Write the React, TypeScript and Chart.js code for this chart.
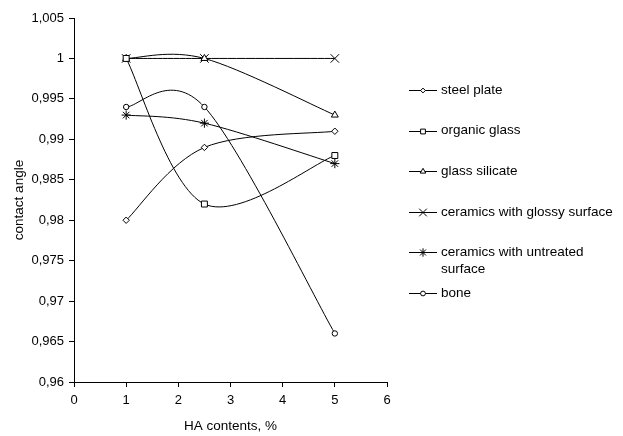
import React, { useEffect, useRef } from 'react';
import { Chart, registerables } from 'chart.js';
import { drawPoint } from 'chart.js/helpers';

Chart.register(...registerables);

// ---- data ----
const xValues = [1, 2.5, 5];
const seriesLabels = [
  'steel plate',
  'organic glass',
  'glass silicate',
  'ceramics with glossy surface',
  'ceramics with untreated surface',
  'bone',
];
const steelPlate = [0.98, 0.989, 0.991];
const organicGlass = [1.0, 0.982, 0.988];
const glassSilicate = [1.0, 1.0, 0.993];
const ceramicsGlossy = [1.0, 1.0, 1.0];
const ceramicsUntreated = [0.993, 0.992, 0.987];
const bone = [0.994, 0.994, 0.966];
const yTickValues = [0.96, 0.965, 0.97, 0.975, 0.98, 0.985, 0.99, 0.995, 1.0, 1.005];
const xTickValues = [0, 1, 2, 3, 4, 5, 6];
const xTitle = 'HA contents, %';
const yTitle = 'contact angle';

// ---- styles ----
const pointStyles = ['rectRot', 'rect', 'triangle', 'crossRot', 'star', 'circle'];
const pointRadii = [3.2, 4.2, 4, 6, 4.6, 2.7];
const legendRadii = [2.4, 3.4, 3.2, 5.4, 4.2, 2.4];
const FONT = "'Liberation Sans', Arial, sans-serif";

const seriesValues = [steelPlate, organicGlass, glassSilicate, ceramicsGlossy, ceramicsUntreated, bone];

const fmt = (v: number) => String(parseFloat(v.toFixed(3))).replace('.', ',');

// Excel-like smoothing: control points at P +/- (Pnext - Pprev)/6 in pixel space
const excelSmooth = {
  id: 'excelSmooth',
  beforeDatasetDraw(chart: any, args: any) {
    const meta = args.meta;
    const line = meta.dataset;
    if (!line || !line.updateControlPoints) return;
    line.updateControlPoints(chart.chartArea, meta.iScale.axis);
    const pts = meta.data;
    const n = pts.length;
    for (let i = 0; i < n; i++) {
      const p = pts[i];
      const prev = pts[Math.max(i - 1, 0)];
      const next = pts[Math.min(i + 1, n - 1)];
      const dx = (next.x - prev.x) / 6;
      const dy = (next.y - prev.y) / 6;
      p.cp1x = p.x - dx;
      p.cp1y = p.y - dy;
      p.cp2x = p.x + dx;
      p.cp2y = p.y + dy;
    }
  },
};

const sideLegend = {
  id: 'sideLegend',
  afterDraw(chart: any) {
    const ctx = chart.ctx as CanvasRenderingContext2D;
    const area = chart.chartArea;
    const lineX0 = area.right + 22;
    const lineX1 = lineX0 + 28;
    const markX = (lineX0 + lineX1) / 2;
    const textX = area.right + 54;
    const y0 = area.top + 72;
    const step = 40.6;
    const maxW = 178;
    const lineH = 17;
    ctx.save();
    ctx.font = `13.5px ${FONT}`;
    ctx.textBaseline = 'middle';
    ctx.textAlign = 'left';
    chart.data.datasets.forEach((ds: any, i: number) => {
      const y = y0 + i * step;
      const yl = Math.round(y) + 0.5;
      ctx.strokeStyle = '#000';
      ctx.lineWidth = 1;
      ctx.beginPath();
      ctx.moveTo(lineX0, yl);
      ctx.lineTo(lineX1, yl);
      ctx.stroke();
      ctx.fillStyle = '#fff';
      ctx.strokeStyle = '#000';
      drawPoint(ctx, { pointStyle: ds.pointStyle, radius: legendRadii[i], borderWidth: 1, rotation: 0 } as any, markX, yl);
      const words = String(ds.label).split(' ');
      const lines: string[] = [];
      let cur = '';
      for (const w of words) {
        const t = cur ? cur + ' ' + w : w;
        if (ctx.measureText(t).width > maxW && cur) {
          lines.push(cur);
          cur = w;
        } else cur = t;
      }
      if (cur) lines.push(cur);
      ctx.fillStyle = '#000';
      lines.forEach((l, j) => ctx.fillText(l, textX, y + j * lineH));
    });
    ctx.restore();
  },
};

export default function App() {
  const ref = useRef<HTMLCanvasElement | null>(null);
  useEffect(() => {
    if (!ref.current) return;
    Chart.defaults.font.family = FONT;
    Chart.defaults.font.size = 13;
    Chart.defaults.color = '#000';
    const chart = new Chart(ref.current, {
      type: 'line',
      data: {
        datasets: seriesValues.map((vals, i) => ({
          label: seriesLabels[i],
          data: vals.map((v, j) => ({ x: xValues[j], y: v })),
          borderColor: '#000',
          borderWidth: 1,
          backgroundColor: '#fff',
          pointStyle: pointStyles[i],
          pointRadius: pointRadii[i],
          pointBorderColor: '#000',
          pointBackgroundColor: '#fff',
          pointBorderWidth: 1,
          tension: 0.4,
          fill: false,
        })),
      },
      options: {
        animation: false,
        responsive: false,
        events: [],
        layout: { padding: { top: 18, right: 236, bottom: 0, left: 0 } },
        plugins: { legend: { display: false }, tooltip: { enabled: false } },
        scales: {
          x: {
            type: 'linear',
            min: 0,
            max: 6,
            afterBuildTicks: (s: any) => {
              s.ticks = xTickValues.map((v) => ({ value: v }));
            },
            afterFit: (s: any) => {
              s.height = 54;
            },
            grid: { drawOnChartArea: false, drawTicks: true, tickLength: 5, color: '#000', lineWidth: 1 },
            border: { display: true, color: '#000', width: 1 },
            ticks: { color: '#000', padding: 6, maxRotation: 0, font: { size: 13 } },
            title: { display: true, text: xTitle, color: '#000', font: { size: 13.5 }, padding: { top: 0, bottom: 2 } },
          },
          y: {
            type: 'linear',
            min: 0.96,
            max: 1.005,
            afterBuildTicks: (s: any) => {
              s.ticks = yTickValues.map((v) => ({ value: v }));
            },
            afterFit: (s: any) => {
              s.width = 74;
            },
            grid: { drawOnChartArea: false, drawTicks: true, tickLength: 5, color: '#000', lineWidth: 1 },
            border: { display: true, color: '#000', width: 1 },
            ticks: { color: '#000', padding: 5, font: { size: 13 }, callback: (v: any) => fmt(Number(v)) },
            title: { display: true, text: yTitle, color: '#000', font: { size: 13.5 }, padding: { top: 11, bottom: 0 } },
          },
        },
      } as any,
      plugins: [excelSmooth, sideLegend],
    });
    return () => chart.destroy();
  }, []);
  return (
    <div style={{ position: 'fixed', left: 0, top: 0, width: 623, height: 436, background: '#fff' }}>
      <canvas ref={ref} width={623} height={436} style={{ display: 'block' }} />
    </div>
  );
}
